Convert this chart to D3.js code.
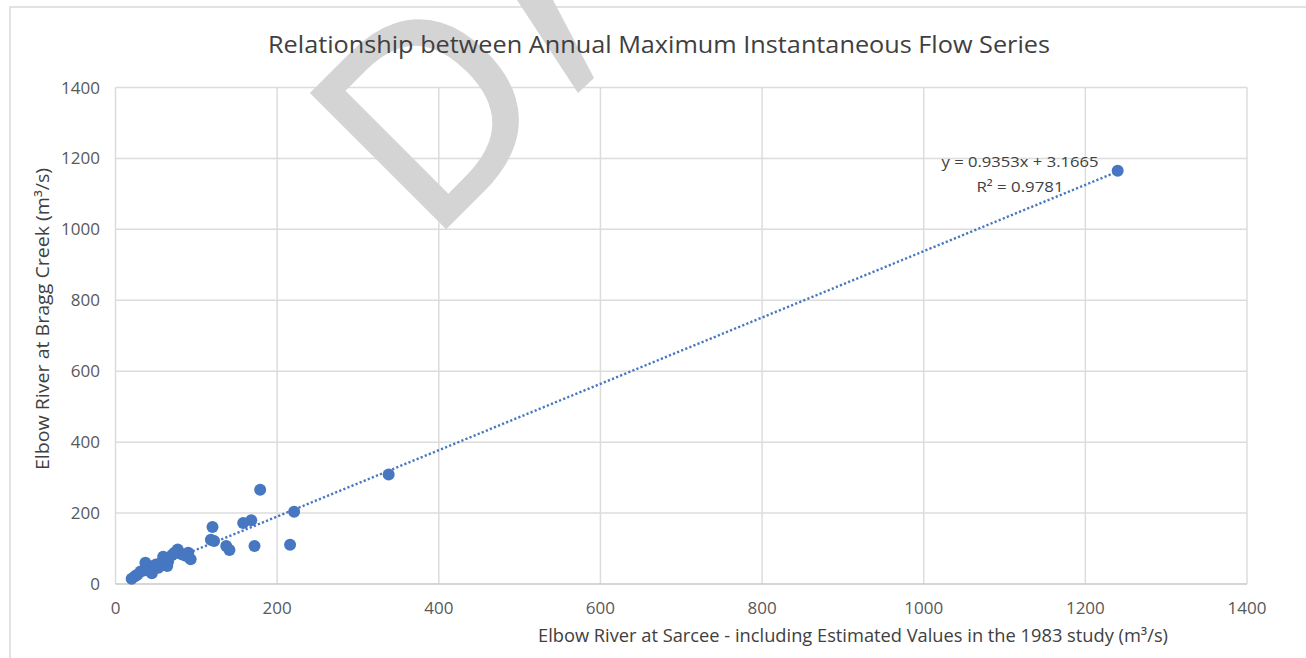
<!DOCTYPE html>
<html>
<head>
<meta charset="utf-8">
<script src="https://cdn.jsdelivr.net/npm/d3@7"></script>
<style>
  html, body { margin: 0; padding: 0; background: #fff; }
  svg { display: block; }
</style>
</head>
<body>
<svg id="chart" width="1306" height="658"></svg>
<script>
// ---- data ----
const sarcee = [1240, 338, 221, 179, 216, 172, 168, 158, 120, 122, 118, 137, 141,
                93, 90, 77, 82, 70, 65, 62, 64, 59, 55, 53, 47, 41, 37, 45, 31,
                24, 20, 27, 35, 50, 73, 86];
const bragg  = [1165, 309, 204, 266, 111, 107, 180, 172, 161, 121, 125, 107, 96,
                70, 88, 97, 84, 82, 63, 67, 51, 77, 58, 46, 50, 43, 60, 30, 35,
                22, 15, 26, 38, 55, 88, 80];
const xTicks = [0, 200, 400, 600, 800, 1000, 1200, 1400];
const yTicks = [0, 200, 400, 600, 800, 1000, 1200, 1400];
const slope = 0.9353, intercept = 3.1665, r2 = 0.9781;
const titleText = "Relationship between Annual Maximum Instantaneous Flow Series";
const xTitle = "Elbow River at Sarcee - including Estimated Values in the 1983 study (m³/s)";
const yTitle = "Elbow River at Bragg Creek (m³/s)";
const eqText = "y = 0.9353x + 3.1665";
const r2Text = "R² = 0.9781";
const watermark = "D";

// ---- layout ----
const svg = d3.select("#chart");
const font = "'Open Sans', 'Noto Sans', sans-serif";
const blue = "#4677c0";
const x = d3.scaleLinear().domain([0, 1400]).range([115.5, 1247]);
const y = d3.scaleLinear().domain([0, 1400]).range([584, 87.5]);

// outer chart border (partially cropped in reference)
svg.append("rect").attr("x", 10).attr("y", 7).attr("width", 1400).attr("height", 700)
  .attr("fill", "none").attr("stroke", "#d9d9d9").attr("stroke-width", 1.5);

// gridlines
const g = svg.append("g");
g.selectAll("line.hg").data(yTicks.filter(d => d > 0)).join("line")
  .attr("x1", x(0)).attr("x2", x(1400))
  .attr("y1", d => y(d)).attr("y2", d => y(d))
  .attr("stroke", "#dcdcdc").attr("stroke-width", 1.5);
g.selectAll("line.vg").data(xTicks).join("line")
  .attr("y1", y(0)).attr("y2", y(1400))
  .attr("x1", d => x(d)).attr("x2", d => x(d))
  .attr("stroke", "#dcdcdc").attr("stroke-width", 1.5);
// bottom axis line
g.append("line").attr("x1", x(0)).attr("x2", x(1400)).attr("y1", y(0)).attr("y2", y(0))
  .attr("stroke", "#c8c8c8").attr("stroke-width", 1.5);

// watermark (cropped "DRAFT" stamp: the D and a stroke of the next letter)
svg.append("text")
  .attr("transform", "translate(428,244) rotate(-45)")
  .attr("font-family", font).attr("font-size", 263)
  .attr("fill", "#d4d4d4").attr("stroke", "#d4d4d4").attr("stroke-width", 5)
  .text(watermark);
svg.append("polygon")
  .attr("points", "517,0 553,0 594,78 578,93")
  .attr("fill", "#d4d4d4");

// tick labels
svg.append("g").selectAll("text").data(yTicks).join("text")
  .attr("x", 100).attr("y", d => y(d) + 6)
  .attr("text-anchor", "end").attr("font-family", font).attr("font-size", 17)
  .attr("fill", "#595959").text(d => d);
svg.append("g").selectAll("text").data(xTicks).join("text")
  .attr("x", d => x(d)).attr("y", 614)
  .attr("text-anchor", "middle").attr("font-family", font).attr("font-size", 17)
  .attr("fill", "#595959").text(d => d);

// titles
svg.append("text").attr("x", 659).attr("y", 53).attr("text-anchor", "middle")
  .attr("font-family", font).attr("font-size", 24).attr("fill", "#404040")
  .attr("textLength", 782).attr("lengthAdjust", "spacingAndGlyphs")
  .text(titleText);
svg.append("text").attr("x", 853).attr("y", 642).attr("text-anchor", "middle")
  .attr("font-family", font).attr("font-size", 18).attr("fill", "#404040")
  .attr("textLength", 630).attr("lengthAdjust", "spacingAndGlyphs")
  .text(xTitle);
svg.append("text").attr("transform", "translate(49,319) rotate(-90)")
  .attr("text-anchor", "middle")
  .attr("font-family", font).attr("font-size", 18).attr("fill", "#404040")
  .attr("textLength", 302).attr("lengthAdjust", "spacingAndGlyphs")
  .text(yTitle);

// trendline
const xMin = d3.min(sarcee), xMax = d3.max(sarcee);
svg.append("line")
  .attr("x1", x(xMin)).attr("y1", y(slope * xMin + intercept))
  .attr("x2", x(xMax)).attr("y2", y(slope * xMax + intercept))
  .attr("stroke", blue).attr("stroke-width", 2.4)
  .attr("stroke-dasharray", "2.2,2.2");

// points
svg.append("g").selectAll("circle").data(sarcee.map((v, i) => [v, bragg[i]])).join("circle")
  .attr("cx", d => x(d[0])).attr("cy", d => y(d[1])).attr("r", 6)
  .attr("fill", blue);

// equation label
svg.append("text").attr("x", 1020).attr("y", 167).attr("text-anchor", "middle")
  .attr("font-family", font).attr("font-size", 15).attr("fill", "#404040")
  .attr("textLength", 157).attr("lengthAdjust", "spacingAndGlyphs")
  .text(eqText);
svg.append("text").attr("x", 1020).attr("y", 192).attr("text-anchor", "middle")
  .attr("font-family", font).attr("font-size", 15).attr("fill", "#404040")
  .attr("textLength", 87).attr("lengthAdjust", "spacingAndGlyphs")
  .text(r2Text);
</script>
</body>
</html>
